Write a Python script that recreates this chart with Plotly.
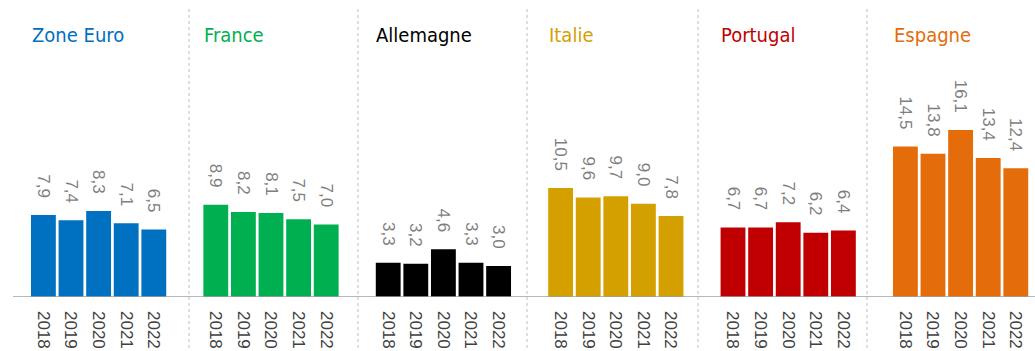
import plotly.graph_objects as go

countries = ["Zone Euro", "France", "Allemagne", "Italie", "Portugal", "Espagne"]
colors = ["#0070C0", "#00B050", "#000000", "#D4A000", "#C00000", "#E46C0A"]
years = ["2018", "2019", "2020", "2021", "2022"]
values = {
    "Zone Euro": [7.9, 7.4, 8.3, 7.1, 6.5],
    "France": [8.9, 8.2, 8.1, 7.5, 7.0],
    "Allemagne": [3.3, 3.2, 4.6, 3.3, 3.0],
    "Italie": [10.5, 9.6, 9.7, 9.0, 7.8],
    "Portugal": [6.7, 6.7, 7.2, 6.2, 6.4],
    "Espagne": [14.5, 13.8, 16.1, 13.4, 12.4],
}

W, H = 1035, 351
TITLE_FONT = "Liberation Sans Narrow, DejaVu Sans Condensed, sans-serif"
FONT = "Liberation Sans, Arial, sans-serif"
x0_px, pitch_px, dom_px = 29.6, 172.4, 138.0
sep_px = [189, 358, 527, 698, 867]
PAD = "\u00a0\u00a0\u00a0"

fig = go.Figure()
layout = {}
annotations = []
for i, c in enumerate(countries):
    ax = "x" if i == 0 else f"x{i+1}"
    axname = "xaxis" if i == 0 else f"xaxis{i+1}"
    labels = [f"{v:.1f}".replace(".", ",") + PAD for v in values[c]]
    fig.add_trace(go.Bar(x=years, y=values[c], marker=dict(color=colors[i], line=dict(width=0)),
                         text=labels, textposition="outside", textangle=90, constraintext="none",
                         cliponaxis=False,
                         outsidetextfont=dict(family=FONT, size=17, color="#7F7F7F"),
                         xaxis=ax, yaxis="y", showlegend=False, hoverinfo="skip"))
    d0 = (x0_px + i * pitch_px) / W
    d1 = (x0_px + i * pitch_px + dom_px) / W
    layout[axname] = dict(domain=[d0, d1], type="category", range=[-0.5, 4.5],
                          showgrid=False, zeroline=False, showline=False, ticks="",
                          tickangle=90, ticklabelstandoff=13, automargin=False,
                          tickfont=dict(family=FONT, size=17, color="#404040"),
                          anchor="y", fixedrange=True)
    annotations.append(dict(text=c, xref="paper", yref="paper", x=(x0_px + i * pitch_px) / W,
                            y=1 - 21 / 297, xanchor="left", yanchor="top", showarrow=False,
                            font=dict(family=TITLE_FONT, size=20, color=colors[i])))

shapes = [dict(type="line", xref="paper", yref="y", x0=13 / W, x1=1, y0=0, y1=0,
               line=dict(color="#A0A0A0", width=1.5))]
for s in sep_px:
    shapes.append(dict(type="line", xref="paper", yref="paper", x0=s / W, x1=s / W,
                       y0=1 - 9 / 297, y1=-54 / 297, line=dict(color="#BFBFBF", width=1, dash="dot")))

fig.update_layout(
    width=W, height=H, margin=dict(l=0, r=0, t=0, b=54, autoexpand=False),
    paper_bgcolor="white", plot_bgcolor="white",
    yaxis=dict(range=[0, 297 / 10.375], visible=False, fixedrange=True, automargin=False),
    bargap=0.1, annotations=annotations, shapes=shapes,
    **layout,
)
fig.write_html("out.html", config={"displayModeBar": False})
